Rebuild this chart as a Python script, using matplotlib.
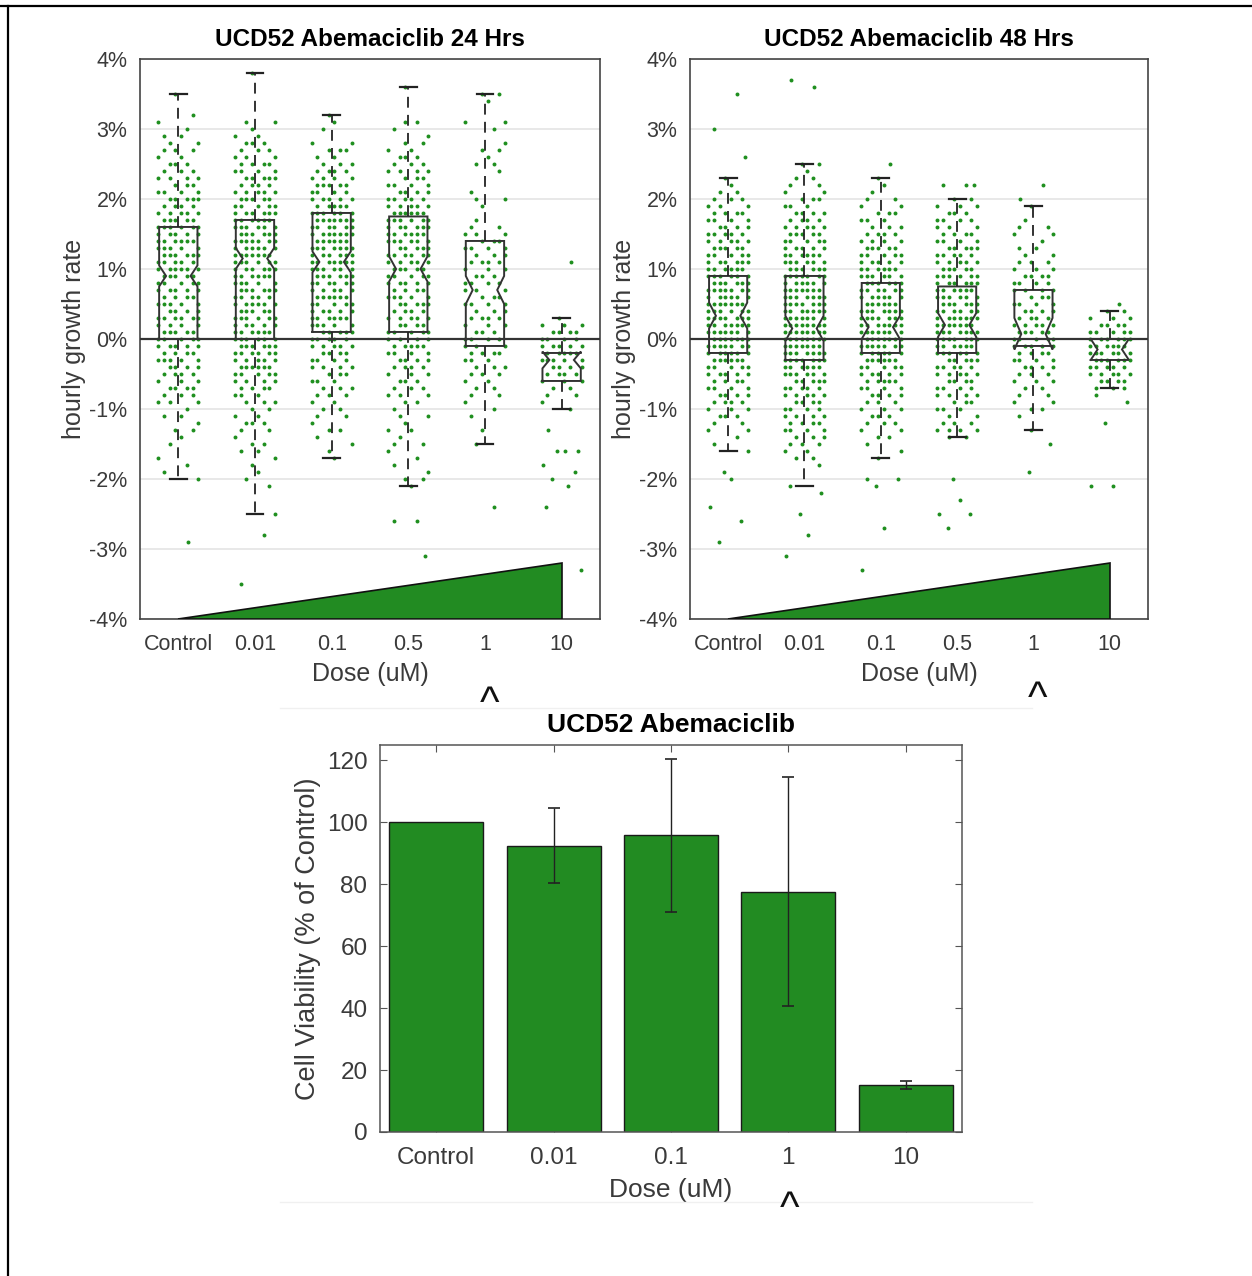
import numpy as np
import matplotlib.pyplot as plt
from matplotlib.lines import Line2D

plt.rcParams['font.family'] = ['Liberation Sans', 'DejaVu Sans']

GREEN = '#228B22'
DOT = '#1f8f1f'
INK = '#3a3a3a'

doses_box = ['Control', '0.01', '0.1', '0.5', '1', '10']
doses_bar = ['Control', '0.01', '0.1', '1', '10']

# --- 24 h: growth rate (%) -- number of wells in each 0.1% row, top row first
top_24 = [3.5, 3.8, 3.2, 3.6, 3.5, 0.3]
rows_24 = [
    [1, 0, 0, 1, 1, 1, 2, 2, 3, 2, 3, 3, 4, 3, 4, 5, 4, 5, 5, 6, 5, 6, 5, 6, 5, 6, 5, 5, 5, 4,
     5, 4, 6, 4, 5, 5, 5, 4, 5, 4, 4, 3, 4, 3, 3, 1, 2, 1, 2, 1, 1, 0, 1, 1, 1, 1],
    [1, 0, 0, 0, 0, 0, 0, 2, 1, 2, 3, 3, 3, 4, 4, 5, 4, 5, 5, 5, 6, 6, 6, 6, 7, 6, 7, 6, 6, 6,
     5, 6, 5, 6, 5, 6, 5, 6, 6, 6, 6, 5, 6, 5, 4, 4, 3, 3, 2, 2, 3, 2, 1, 2, 2, 1, 1, 1, 1, 1,
     0, 0, 0, 1],
    [1, 1, 1, 0, 2, 3, 2, 3, 4, 4, 5, 4, 5, 5, 6, 7, 6, 7, 6, 7, 6, 7, 6, 6, 6, 5, 6, 5, 5, 6,
     5, 5, 5, 5, 4, 4, 4, 3, 3, 3, 3, 2, 2, 2, 1, 2, 1, 1, 1, 1],
    [1, 0, 0, 0, 0, 2, 1, 1, 2, 2, 3, 3, 4, 3, 4, 4, 5, 5, 6, 6, 6, 6, 6, 5, 6, 5, 5, 5, 5, 4,
     5, 5, 4, 5, 4, 5, 4, 5, 4, 4, 4, 3, 3, 3, 3, 2, 1, 2, 1, 2, 1, 2, 1, 1, 1, 1, 2, 1],
    [2, 1, 0, 0, 2, 1, 0, 1, 2, 1, 2, 1, 0, 0, 1, 2, 1, 0, 1, 2, 3, 3, 4, 3, 4, 3, 3, 4, 3, 3,
     4, 3, 4, 3, 3, 4, 3, 4, 3, 3, 3, 2, 2, 2, 1, 1, 1, 0, 1, 0, 1],
    [1, 3, 4, 4, 5, 5, 5, 4, 4, 3, 2, 2, 1, 1],
]
extra_24 = [
    [-2.9],
    [-2.8, -3.5],
    [],
    [-2.6, -2.6, -3.1],
    [-2.4],
    [1.1, -1.3, -1.6, -1.6, -1.6, -1.8, -1.9, -2.0, -2.1, -2.4, -3.3],
]
q1_24 = [0.0, 0.0, 0.1, 0.1, -0.1, -0.6]
med_24 = [0.9, 1.15, 1.1, 1.0, 0.7, -0.3]
q3_24 = [1.6, 1.7, 1.8, 1.75, 1.4, -0.2]
cilo_24 = [0.75, 1.0, 0.95, 0.82, 0.5, -0.42]
cihi_24 = [1.05, 1.3, 1.25, 1.18, 0.9, -0.18]
wlo_24 = [-2.0, -2.5, -1.7, -2.1, -1.5, -1.0]
whi_24 = [3.5, 3.8, 3.2, 3.6, 3.5, 0.3]

# --- 48 h
top_48 = [2.3, 2.5, 2.3, 2.0, 1.9, 0.4]
rows_48 = [
    [1, 1, 2, 3, 3, 4, 4, 4, 5, 5, 5, 5, 6, 6, 6, 6, 7, 6, 7, 6, 7, 7, 7, 7, 7, 6, 6, 5, 5, 4,
     4, 4, 4, 3, 3, 2, 2, 1, 1, 1],
    [2, 1, 2, 2, 2, 3, 3, 4, 4, 5, 5, 5, 5, 6, 6, 6, 7, 6, 7, 7, 7, 7, 7, 8, 8, 8, 7, 7, 7, 6,
     6, 5, 5, 5, 4, 4, 4, 4, 4, 3, 3, 2, 2, 1, 0, 0, 1],
    [1, 1, 1, 2, 2, 3, 3, 3, 4, 4, 5, 5, 5, 6, 6, 6, 6, 6, 6, 7, 7, 7, 7, 7, 7, 6, 6, 5, 5, 5,
     4, 4, 3, 3, 3, 3, 2, 2, 1, 1, 1],
    [2, 3, 3, 4, 3, 4, 4, 5, 5, 5, 5, 6, 6, 6, 6, 6, 6, 7, 7, 7, 7, 6, 6, 5, 5, 5, 4, 4, 4, 3,
     3, 2, 3, 4, 2],
    [1, 0, 1, 2, 2, 1, 2, 2, 3, 3, 4, 4, 4, 3, 4, 4, 4, 5, 5, 5, 5, 4, 4, 4, 3, 3, 2, 2, 2, 2,
     1, 0, 1],
    [2, 3, 4, 5, 6, 6, 6, 6, 5, 5, 4, 3],
]
extra_48 = [
    [3.5, 3.0, 2.6, -1.9, -2.0, -2.4, -2.6, -2.9],
    [3.6, 3.7, -2.2, -2.5, -2.8, -3.1],
    [2.5, -2.0, -2.0, -2.1, -2.7, -3.3],
    [2.2, 2.2, 2.2, -2.0, -2.3, -2.5, -2.5, -2.7],
    [2.2, 2.0, -1.5, -1.9],
    [0.5, -0.8, -0.9, -1.2, -2.1, -2.1],
]
q1_48 = [-0.2, -0.3, -0.2, -0.2, -0.1, -0.3]
med_48 = [0.33, 0.15, 0.17, 0.2, 0.07, -0.15]
q3_48 = [0.9, 0.9, 0.8, 0.75, 0.7, 0.0]
cilo_48 = [0.15, -0.03, 0.0, 0.03, -0.15, -0.3]
cihi_48 = [0.52, 0.33, 0.33, 0.37, 0.3, 0.0]
wlo_48 = [-1.6, -2.1, -1.7, -1.4, -1.3, -0.7]
whi_48 = [2.3, 2.5, 2.3, 2.0, 1.9, 0.4]

# --- cell viability (% of control), mean and error
viability = [100, 92.5, 95.8, 77.6, 15.2]
viability_err = [0, 12.1, 24.8, 37.0, 1.3]

# jitter columns used to spread wells sharing the same row
cols = np.linspace(-0.26, 0.26, 8)
order = [3, 6, 1, 4, 0, 7, 2, 5]
extra_offs = [0.12, -0.18, 0.22, -0.06, 0.04, -0.24, 0.17, -0.12, 0.08, -0.2, 0.25]

BOX_HW = 0.25     # half width of a box
NOTCH_HW = 0.16   # half width at the median pinch
CAP_HW = 0.11


def notched_box(ax, x, q1, med, q3, cilo, cihi, wlo, whi):
    bx = [x - BOX_HW, x + BOX_HW, x + BOX_HW, x + NOTCH_HW, x + BOX_HW, x + BOX_HW,
          x - BOX_HW, x - BOX_HW, x - NOTCH_HW, x - BOX_HW, x - BOX_HW]
    by = [q1, q1, cilo, med, cihi, q3, q3, cihi, med, cilo, q1]
    ax.plot(bx, by, color='#333333', lw=1.4, zorder=3, solid_joinstyle='miter')
    top = max(q3, cihi)
    bot = min(q1, cilo)
    ax.plot([x, x], [top, whi], color='#222222', lw=1.3, ls=(0, (6, 4)), zorder=3)
    ax.plot([x, x], [bot, wlo], color='#222222', lw=1.3, ls=(0, (6, 4)), zorder=3)
    for w in (whi, wlo):
        ax.plot([x - CAP_HW, x + CAP_HW], [w, w], color='#222222', lw=1.6, zorder=3)


def growth_panel(ax, title, tops, rows, extras, q1, med, q3, cilo, cihi, wlo, whi):
    for i in range(6):
        xs, ys = [], []
        for r, n in enumerate(rows[i]):
            y = tops[i] - 0.1 * r
            for k in range(n):
                xs.append(i + 1 + cols[order[(r * 3 + k) % 8]])
                ys.append(y)
        for j, y in enumerate(extras[i]):
            xs.append(i + 1 + extra_offs[j % len(extra_offs)])
            ys.append(y)
        ax.scatter(xs, ys, s=8, color=DOT, linewidths=0, zorder=2)

    for i in range(6):
        notched_box(ax, i + 1, q1[i], med[i], q3[i], cilo[i], cihi[i], wlo[i], whi[i])

    # dose ramp
    ax.fill([1, 6, 6], [-4, -4, -3.2], facecolor=GREEN, edgecolor='#111111', lw=1.2, zorder=4)

    ax.axhline(0, color='#333333', lw=1.6, zorder=3)
    ax.set_xlim(0.5, 6.5)
    ax.set_ylim(-4, 4)
    ax.set_yticks(range(-4, 5))
    ax.set_yticklabels([f'{v}%' for v in range(-4, 5)])
    ax.set_xticks(range(1, 7))
    ax.set_xticklabels(doses_box)
    ax.yaxis.grid(True, color='#e2e2e2', lw=1.1)
    ax.set_axisbelow(True)
    ax.tick_params(length=0, labelsize=15.5, labelcolor=INK)
    ax.tick_params(axis='x', pad=11)
    ax.tick_params(axis='y', pad=9)
    for s in ax.spines.values():
        s.set_color('#444444')
        s.set_linewidth(1.2)
    ax.set_title(title, fontsize=17.5, fontweight='bold', pad=9)
    ax.set_xlabel('Dose (uM)', fontsize=18, color=INK, labelpad=5)
    ax.set_ylabel('hourly growth rate', fontsize=18, color=INK, labelpad=2)


fig = plt.figure(figsize=(12.52, 12.76), dpi=100)

ax1 = fig.add_axes([0.1118, 0.5149, 0.3674, 0.4389])
growth_panel(ax1, 'UCD52 Abemaciclib 24 Hrs', top_24, rows_24, extra_24,
             q1_24, med_24, q3_24, cilo_24, cihi_24, wlo_24, whi_24)

ax2 = fig.add_axes([0.5511, 0.5149, 0.3658, 0.4389])
growth_panel(ax2, 'UCD52 Abemaciclib 48 Hrs', top_48, rows_48, extra_48,
             q1_48, med_48, q3_48, cilo_48, cihi_48, wlo_48, whi_48)

# viability bar chart
ax3 = fig.add_axes([0.3035, 0.1129, 0.4649, 0.3033])
xb = np.arange(1, 6)
ax3.bar(xb, viability, width=0.8, color=GREEN, edgecolor='#1a1a1a', lw=1.0, zorder=2)
err = np.array(viability_err)
has_err = err > 0
ax3.errorbar(xb[has_err], np.array(viability)[has_err], yerr=err[has_err], fmt='none',
             ecolor='#222222', elinewidth=1.0, capsize=4, capthick=1.2, zorder=3)
ax3.set_xlim(0.52, 5.48)
ax3.set_ylim(0, 125)
ax3.set_yticks(range(0, 121, 20))
ax3.set_xticks(xb)
ax3.set_xticklabels(doses_bar)
ax3.tick_params(direction='in', length=5, top=True, right=True, labelsize=17.5,
                labelcolor=INK, color='#555555', pad=11)
for s in ax3.spines.values():
    s.set_color('#555555')
    s.set_linewidth(1.1)
ax3.tick_params(axis='y', pad=9)
ax3.set_title('UCD52 Abemaciclib', fontsize=19, fontweight='bold', pad=9)
ax3.set_xlabel('Dose (uM)', fontsize=19, color=INK, labelpad=6)
ax3.set_ylabel('Cell Viability (% of Control)', fontsize=19.5, color=INK, labelpad=4)

# carets under the 1 uM dose
W, H = 1252, 1276
for cx, cy in [(490, 705), (1038, 700), (790, 1210)]:
    fig.text(cx / W, 1 - cy / H, '^', fontsize=30, ha='center', va='center', color='#111111')

# page frame
fig.add_artist(Line2D([0, 1], [1 - 5.5 / H, 1 - 5.5 / H], color='black', lw=1.6,
                      transform=fig.transFigure))
fig.add_artist(Line2D([8 / W, 8 / W], [0, 1 - 5.5 / H], color='black', lw=1.6,
                      transform=fig.transFigure))
for yy in (708, 1202):
    fig.add_artist(Line2D([280 / W, 1032 / W], [1 - yy / H, 1 - yy / H], color='#f0f0f0',
                          lw=1.0, transform=fig.transFigure))

fig.savefig('out.png', dpi=100, facecolor='white')
